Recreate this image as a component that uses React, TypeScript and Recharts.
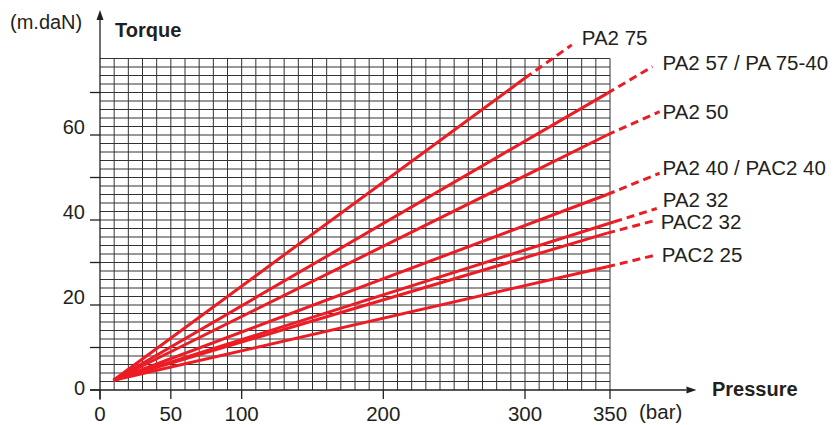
import { LineChart, Line, XAxis, YAxis, ReferenceLine } from 'recharts'

// Pressure (bar) / torque (m.daN)
const pressureTicks = [0, 50, 100, 200, 300, 360]
const pressureTickLabels = ['0', '50', '100', '200', '300', '350']
const torqueTicks = [0, 10, 20, 30, 40, 50, 60, 70]
const torqueTickLabels = ['0', '', '20', '', '40', '', '60', '']

const models = ['PA2 75', 'PA2 57 / PA 75-40', 'PA2 50', 'PA2 40 / PAC2 40', 'PA2 32', 'PAC2 32', 'PAC2 25']
const startPressure = 9.5
const startTorque = 2.3
const solidEndPressure = [300, 358, 358, 358, 363, 358, 358]
const solidEndTorque = [73.4, 69.8, 60.0, 46.0, 39.6, 36.9, 29.0]
const dashEndPressure = [333, 390, 395, 395, 393, 393, 393]
const dashEndTorque = [81.2, 76.1, 65.5, 51.0, 42.7, 40.0, 31.8]

// grid extent
const gridMaxPressure = 360
const gridMaxTorque = 78
const gridPressure = Array.from({ length: 36 }, (_, i) => (i + 1) * 10)
const gridTorque = Array.from({ length: 39 }, (_, i) => (i + 1) * 2)

const RED = '#ed1c24'
const INK = '#231f20'
const FONT = '"Liberation Sans", Arial, Helvetica, sans-serif'

// label nudges (px) from the end of each dashed line
const labelDx = [10, 10, 3, 3, 6, 4, 5]
const labelDy = [-7, -4, 0, -6, -9, 1, 0]

const arrowShape = (props: any) => {
    const { x1, y1, x2, y2 } = props
    const a = Math.atan2(y2 - y1, x2 - x1)
    const len = 10
    const half = 3.5
    const bx = x2 - len * Math.cos(a)
    const by = y2 - len * Math.sin(a)
    const px = -Math.sin(a) * half
    const py = Math.cos(a) * half
    return (
        <g>
            <line x1={x1} y1={y1} x2={bx} y2={by} stroke={INK} strokeWidth={1.3} />
            <polygon points={`${x2},${y2} ${bx + px},${by + py} ${bx - px},${by - py}`} fill={INK} />
        </g>
    )
}

const YTick = (props: any) => {
    const { x, y, index } = props
    return (
        <text x={x} y={index === 0 ? y + 5 : y - 1} textAnchor="end" fill={INK} fontSize={20} fontFamily={FONT}>
            {torqueTickLabels[index]}
        </text>
    )
}

const textStyle = {
    position: 'absolute' as const,
    fontFamily: FONT,
    fontSize: 20,
    lineHeight: '20px',
    color: INK,
    whiteSpace: 'nowrap' as const,
}

export default function App() {
    return (
        <div style={{ position: 'absolute', left: 0, top: 0, width: 836, height: 425, background: '#fff' }}>
            <LineChart width={836} height={425} margin={{ top: 7.5, right: 56, bottom: 0, left: 0 }}>
                <XAxis
                    type="number"
                    dataKey="p"
                    domain={[0, 480]}
                    ticks={pressureTicks}
                    tickFormatter={(v: number) => pressureTickLabels[pressureTicks.indexOf(v)]}
                    axisLine={false}
                    tickLine={{ stroke: INK, strokeWidth: 1.3 }}
                    tickSize={9}
                    tickMargin={7}
                    height={35}
                    tick={{ fill: INK, fontSize: 20.5, fontFamily: FONT }}
                    interval={0}
                />
                <YAxis
                    type="number"
                    dataKey="t"
                    domain={[0, 90]}
                    ticks={torqueTicks}
                    axisLine={false}
                    tickLine={{ stroke: INK, strokeWidth: 1.3 }}
                    tickSize={10}
                    tickMargin={5}
                    width={100}
                    tick={<YTick />}
                    interval={0}
                />
                {gridPressure.map((p) => (
                    <ReferenceLine
                        key={'gx' + p}
                        segment={[{ x: p, y: 0 }, { x: p, y: gridMaxTorque }]}
                        stroke="#333"
                        strokeWidth={1}
                    />
                ))}
                {gridTorque.map((t) => (
                    <ReferenceLine
                        key={'gy' + t}
                        segment={[{ x: 0, y: t }, { x: gridMaxPressure, y: t }]}
                        stroke="#333"
                        strokeWidth={1}
                    />
                ))}
                <ReferenceLine
                    segment={[{ x: -7, y: 0 }, { x: 421, y: 0 }]}
                    ifOverflow="visible"
                    shape={arrowShape}
                />
                <ReferenceLine
                    segment={[{ x: 0, y: -2.3 }, { x: 0, y: 89.4 }]}
                    ifOverflow="visible"
                    shape={arrowShape}
                />
                {models.map((m, i) => (
                    <Line
                        key={'s' + m}
                        data={[
                            { p: startPressure, t: startTorque },
                            { p: solidEndPressure[i], t: solidEndTorque[i] },
                        ]}
                        dataKey="t"
                        stroke={RED}
                        strokeWidth={3}
                        dot={false}
                        activeDot={false}
                        isAnimationActive={false}
                    />
                ))}
                {models.map((m, i) => (
                    <Line
                        key={'d' + m}
                        data={[
                            { p: solidEndPressure[i], t: solidEndTorque[i] },
                            { p: dashEndPressure[i], t: dashEndTorque[i] },
                        ]}
                        dataKey="t"
                        stroke={RED}
                        strokeWidth={3}
                        strokeDasharray="8 5"
                        dot={false}
                        activeDot={false}
                        isAnimationActive={false}
                        label={(props: any) =>
                            props.index === 1 ? (
                                <text
                                    key={'l' + m}
                                    x={props.x + labelDx[i]}
                                    y={props.y + labelDy[i]}
                                    dominantBaseline="central"
                                    fill={INK}
                                    fontSize={20.5}
                                    fontFamily={FONT}
                                >
                                    {m}
                                </text>
                            ) : (
                                <g key={'n' + m + props.index} />
                            )
                        }
                    />
                ))}
            </LineChart>
            <div style={{ ...textStyle, left: 10, top: 12 }}>(m.daN)</div>
            <div style={{ ...textStyle, left: 115, top: 19.5, fontWeight: 'bold' }}>Torque</div>
            <div style={{ ...textStyle, left: 712, top: 379, fontWeight: 'bold' }}>Pressure</div>
            <div style={{ ...textStyle, left: 639, top: 402, fontSize: 20.5 }}>(bar)</div>
        </div>
    )
}
